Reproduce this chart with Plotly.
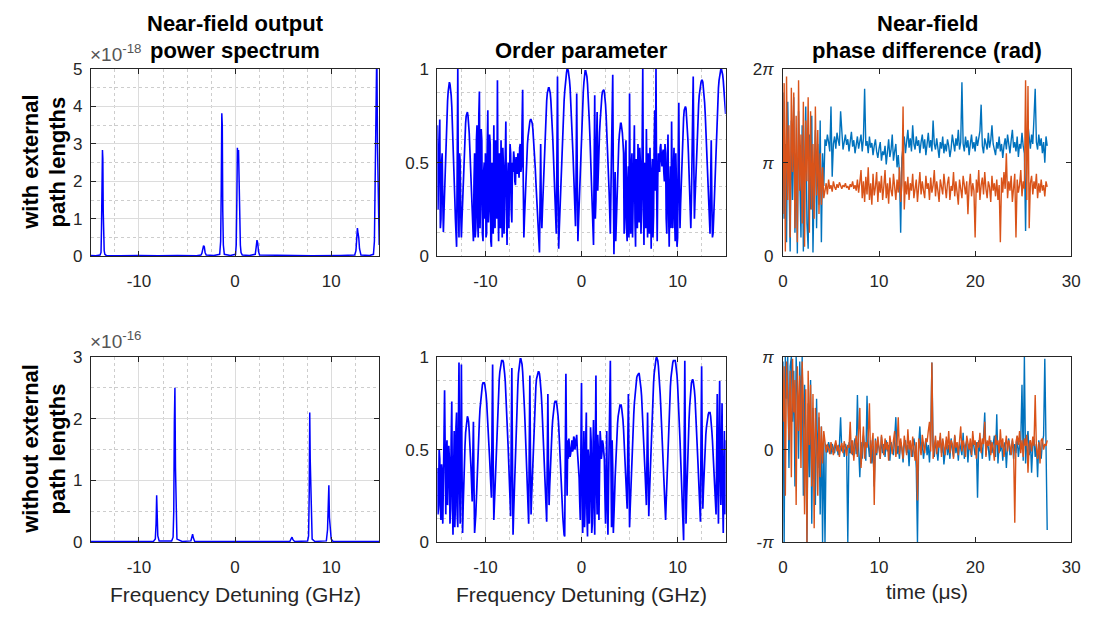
import numpy as np
import plotly.graph_objects as go

# ---------------- data ----------------
# Near-field output power spectrum, with external path lengths (units of 1e-18)
spec_top_freq = [-15.0, -14.5, -14.05, -13.95, -13.90, -13.85, -13.80, -13.76, -13.72, -13.68, -13.62, -13.55, -13.4,
                 -12.0, -10.0, -8.0, -6.0, -4.0, -3.55,
                 -3.45, -3.35, -3.28, -3.20, -3.12, -3.0,
                 -2.2, -1.6, -1.5, -1.44, -1.38, -1.33, -1.28, -1.22, -1.12,
                 -0.5, 0.05, 0.12, 0.18, 0.24, 0.30, 0.36, 0.42, 0.48, 0.55, 0.62, 0.75,
                 1.5, 2.1, 2.2, 2.28, 2.36, 2.44, 2.55,
                 5.0, 8.0, 11.0, 12.45, 12.58, 12.66, 12.73, 12.80, 12.87, 12.95, 13.1,
                 14.0, 14.4, 14.5, 14.56, 14.62, 14.68, 14.75, 14.82, 14.9, 15.0]
spec_top_power = [0.02, 0.01, 0.03, 0.10, 0.74, 1.90, 2.84, 2.60, 1.20, 0.30, 0.15, 0.05, 0.02,
                  0.01, 0.02, 0.01, 0.02, 0.01, 0.03,
                  0.08, 0.22, 0.28, 0.25, 0.10, 0.03,
                  0.02, 0.05, 0.40, 1.77, 3.82, 3.50, 1.20, 0.30, 0.05,
                  0.02, 0.05, 0.30, 1.40, 2.90, 2.50, 2.84, 2.00, 0.80, 0.30, 0.10, 0.03,
                  0.02, 0.05, 0.25, 0.43, 0.35, 0.12, 0.03,
                  0.02, 0.01, 0.02, 0.03, 0.15, 0.50, 0.75, 0.60, 0.50, 0.20, 0.03,
                  0.02, 0.05, 0.40, 1.80, 3.24, 5.60, 5.60, 3.00, 1.00, 0.30]

# Near-field output power spectrum, without external path lengths (units of 1e-16)
spec_bot_freq = [-15.0, -12.0, -10.0, -8.5, -8.3, -8.22, -8.16, -8.10, -8.04, -7.9,
                 -6.6, -6.45, -6.38, -6.32, -6.26, -6.20, -6.14, -6.05, -5.5,
                 -4.6, -4.5, -4.42, -4.34, -4.2, 0.0,
                 5.7, 5.85, 5.93, 6.02, 6.2,
                 7.55, 7.65, 7.72, 7.77, 7.82, 7.87, 7.93, 8.02, 8.3,
                 9.5, 9.62, 9.70, 9.76, 9.82, 9.90, 10.0, 10.2, 15.0]
spec_bot_power = [0.01, 0.01, 0.01, 0.01, 0.05, 0.30, 0.76, 0.50, 0.10, 0.02,
                  0.02, 0.08, 0.50, 1.93, 2.50, 1.20, 0.30, 0.05, 0.01,
                  0.02, 0.08, 0.13, 0.07, 0.01, 0.01,
                  0.01, 0.06, 0.08, 0.04, 0.01,
                  0.02, 0.10, 0.84, 2.10, 1.34, 0.84, 0.30, 0.05, 0.01,
                  0.02, 0.20, 0.50, 0.92, 0.40, 0.20, 0.05, 0.01, 0.01]

# Order parameter, sampled every 0.0625 GHz from -15 to 15 GHz
order_top = [
    0.70, 0.25, 0.45, 0.62, 0.73, 0.15, 0.20, 0.50, 0.55, 0.30, 0.13, 0.24, 0.35, 0.47, 0.58, 0.68, 0.76, 0.83, 0.88, 0.91,
    0.93, 0.92, 0.90, 0.86, 0.80, 0.72, 0.63, 0.53, 0.42, 0.31, 0.20, 0.12, 0.05, 0.45, 1.00, 0.30, 0.10, 0.55, 0.50, 0.22,
    0.10, 0.20, 0.30, 0.40, 0.50, 0.59, 0.66, 0.71, 0.75, 0.77, 0.77, 0.75, 0.72, 0.66, 0.58, 0.49, 0.40, 0.30, 0.20, 0.13,
    0.08, 0.40, 0.55, 0.10, 0.15, 0.62, 0.70, 0.20, 0.10, 0.75, 0.88, 0.15, 0.30, 0.68, 0.62, 0.12, 0.08, 0.45, 0.50, 0.20,
    0.55, 0.10, 0.12, 0.58, 0.78, 0.18, 0.25, 0.65, 0.60, 0.08, 0.05, 0.50, 0.45, 0.12, 0.70, 0.30, 0.15, 0.62, 0.52, 0.20,
    0.94, 0.30, 0.08, 0.55, 0.40, 0.15, 0.62, 0.20, 0.10, 0.58, 0.48, 0.12, 0.30, 0.60, 0.72, 0.25, 0.06, 0.42, 0.50, 0.15,
    0.35, 0.60, 0.55, 0.25, 0.18, 0.50, 0.45, 0.56, 0.52, 0.40, 0.38, 0.53, 0.50, 0.44, 0.55, 0.48, 0.42, 0.58, 0.60, 0.45,
    0.48, 0.70, 0.89, 0.40, 0.10, 0.20, 0.30, 0.39, 0.47, 0.54, 0.60, 0.64, 0.68, 0.70, 0.72, 0.73, 0.73, 0.72, 0.71, 0.68,
    0.64, 0.59, 0.54, 0.47, 0.40, 0.33, 0.26, 0.19, 0.12, 0.06, 0.02, 0.30, 0.60, 0.25, 0.15, 0.25, 0.35, 0.45, 0.55, 0.64,
    0.72, 0.78, 0.83, 0.87, 0.89, 0.90, 0.90, 0.89, 0.87, 0.83, 0.78, 0.72, 0.64, 0.56, 0.47, 0.39, 0.30, 0.21, 0.12, 0.50,
    0.96, 0.40, 0.04, 0.15, 0.25, 0.35, 0.45, 0.54, 0.62, 0.70, 0.77, 0.83, 0.88, 0.93, 0.96, 0.98, 1.00, 1.00, 0.99, 0.97,
    0.94, 0.90, 0.84, 0.78, 0.70, 0.62, 0.53, 0.44, 0.35, 0.25, 0.16, 0.45, 0.87, 0.40, 0.08, 0.18, 0.28, 0.38, 0.48, 0.57,
    0.66, 0.74, 0.81, 0.88, 0.93, 0.97, 0.99, 0.99, 0.98, 0.96, 0.92, 0.87, 0.80, 0.72, 0.64, 0.55, 0.45, 0.35, 0.25, 0.15,
    0.06, 0.45, 0.86, 0.20, 0.30, 0.60, 0.77, 0.35, 0.50, 0.58, 0.66, 0.72, 0.78, 0.83, 0.86, 0.88, 0.89, 0.89, 0.88, 0.85,
    0.81, 0.75, 0.68, 0.60, 0.52, 0.43, 0.34, 0.23, 0.12, 0.35, 0.60, 0.85, 0.97, 0.40, 0.01, 0.25, 0.45, 0.08, 0.20, 0.33,
    0.45, 0.53, 0.60, 0.65, 0.69, 0.71, 0.71, 0.69, 0.66, 0.61, 0.55, 0.12, 0.20, 0.55, 0.62, 0.15, 0.08, 0.40, 0.48, 0.10,
    0.87, 0.35, 0.12, 0.48, 0.55, 0.10, 0.30, 0.62, 0.70, 0.20, 0.05, 0.52, 0.42, 0.15, 0.60, 0.35, 0.18, 0.58, 0.50, 0.12,
    0.25, 0.60, 1.00, 0.30, 0.06, 0.50, 0.45, 0.15, 0.68, 0.40, 0.10, 0.55, 0.38, 0.12, 0.58, 0.25, 0.04, 0.45, 0.52, 0.10,
    0.22, 0.60, 0.78, 0.35, 1.00, 0.40, 0.08, 0.42, 0.55, 0.50, 0.45, 0.58, 0.60, 0.52, 0.48, 0.55, 0.57, 0.45, 0.40, 0.60,
    0.55, 0.20, 0.12, 0.50, 0.65, 0.25, 0.05, 0.35, 0.48, 0.15, 0.72, 0.40, 0.15, 0.45, 0.58, 0.20, 0.08, 0.55, 0.40, 0.05,
    0.10, 0.50, 0.82, 0.35, 0.15, 0.28, 0.40, 0.51, 0.60, 0.68, 0.74, 0.78, 0.80, 0.80, 0.79, 0.75, 0.70, 0.63, 0.55, 0.45,
    0.35, 0.25, 0.15, 0.30, 0.50, 0.75, 0.96, 0.50, 0.20, 0.30, 0.40, 0.50, 0.60, 0.68, 0.75, 0.81, 0.86, 0.89, 0.92, 0.93,
    0.94, 0.94, 0.93, 0.90, 0.87, 0.82, 0.76, 0.68, 0.60, 0.51, 0.42, 0.33, 0.25, 0.18, 0.12, 0.40, 0.62, 0.30, 0.10, 0.12,
    0.20, 0.29, 0.38, 0.49, 0.60, 0.70, 0.78, 0.85, 0.90, 0.94, 0.97, 0.99, 1.00, 1.00, 0.99, 0.97, 0.94, 0.90, 0.86, 0.81,
    0.76]

order_bot = [
    0.40, 0.15, 0.20, 0.50, 0.45, 0.18, 0.12, 0.42, 0.38, 0.10, 0.25, 0.55, 0.82, 0.30, 0.15, 0.48, 0.55, 0.20, 0.30, 0.52,
    0.45, 0.10, 0.18, 0.55, 0.76, 0.25, 0.04, 0.35, 0.60, 0.08, 0.20, 0.62, 0.70, 0.15, 0.08, 0.60, 0.97, 0.30, 0.10, 0.50,
    0.96, 0.40, 0.05, 0.20, 0.35, 0.44, 0.52, 0.59, 0.64, 0.67, 0.68, 0.67, 0.65, 0.60, 0.55, 0.48, 0.40, 0.31, 0.22, 0.45,
    0.65, 0.30, 0.05, 0.10, 0.15, 0.25, 0.35, 0.44, 0.52, 0.60, 0.66, 0.72, 0.76, 0.80, 0.83, 0.85, 0.86, 0.86, 0.86, 0.85,
    0.83, 0.80, 0.76, 0.71, 0.65, 0.59, 0.52, 0.45, 0.38, 0.31, 0.24, 0.60, 0.96, 0.40, 0.12, 0.21, 0.30, 0.40, 0.50, 0.59,
    0.68, 0.76, 0.82, 0.88, 0.92, 0.95, 0.97, 0.98, 0.98, 0.98, 0.97, 0.95, 0.91, 0.87, 0.81, 0.74, 0.67, 0.59, 0.50, 0.41,
    0.32, 0.23, 0.14, 0.55, 0.94, 0.45, 0.04, 0.16, 0.28, 0.39, 0.50, 0.61, 0.70, 0.78, 0.85, 0.91, 0.95, 0.98, 0.99, 0.99,
    0.98, 0.96, 0.92, 0.87, 0.80, 0.72, 0.64, 0.55, 0.45, 0.35, 0.25, 0.17, 0.10, 0.50, 0.90, 0.45, 0.15, 0.25, 0.35, 0.45,
    0.55, 0.64, 0.72, 0.79, 0.84, 0.88, 0.90, 0.91, 0.92, 0.92, 0.91, 0.88, 0.85, 0.80, 0.74, 0.67, 0.59, 0.51, 0.42, 0.33,
    0.25, 0.18, 0.11, 0.45, 0.80, 0.40, 0.20, 0.30, 0.40, 0.48, 0.55, 0.61, 0.66, 0.70, 0.73, 0.75, 0.76, 0.76, 0.76, 0.74,
    0.72, 0.68, 0.63, 0.57, 0.50, 0.43, 0.35, 0.28, 0.20, 0.13, 0.06, 0.04, 0.03, 0.50, 0.91, 0.50, 0.25, 0.55, 0.45, 0.56,
    0.52, 0.46, 0.48, 0.54, 0.55, 0.49, 0.50, 0.57, 0.56, 0.50, 0.52, 0.55, 0.58, 0.50, 0.45, 0.40, 0.35, 0.22, 0.12, 0.50,
    0.86, 0.30, 0.05, 0.40, 0.60, 0.08, 0.20, 0.55, 0.70, 0.15, 0.03, 0.50, 0.45, 0.10, 0.25, 0.62, 0.55, 0.05, 0.10, 0.48,
    0.66, 0.20, 0.04, 0.50, 0.90, 0.30, 0.15, 0.58, 0.50, 0.12, 0.30, 0.60, 0.55, 0.45, 0.48, 0.55, 0.53, 0.50, 0.45, 0.25,
    0.10, 0.35, 0.60, 0.20, 0.04, 0.30, 0.50, 0.75, 0.98, 0.45, 0.08, 0.55, 0.40, 0.05, 0.12, 0.24, 0.35, 0.44, 0.52, 0.58,
    0.64, 0.68, 0.71, 0.73, 0.74, 0.74, 0.74, 0.72, 0.70, 0.66, 0.61, 0.55, 0.48, 0.41, 0.33, 0.25, 0.18, 0.50, 0.80, 0.40,
    0.08, 0.18, 0.28, 0.37, 0.46, 0.54, 0.62, 0.69, 0.75, 0.80, 0.84, 0.87, 0.89, 0.90, 0.91, 0.91, 0.91, 0.89, 0.87, 0.83,
    0.79, 0.73, 0.67, 0.60, 0.52, 0.44, 0.36, 0.28, 0.20, 0.45, 0.70, 0.40, 0.14, 0.25, 0.35, 0.46, 0.56, 0.65, 0.73, 0.80,
    0.86, 0.91, 0.95, 0.98, 0.99, 1.00, 0.99, 0.98, 0.95, 0.91, 0.86, 0.80, 0.73, 0.65, 0.56, 0.47, 0.38, 0.29, 0.20, 0.15,
    0.12, 0.22, 0.32, 0.42, 0.52, 0.61, 0.70, 0.78, 0.84, 0.89, 0.93, 0.96, 0.97, 0.98, 0.98, 0.98, 0.98, 0.96, 0.94, 0.90,
    0.85, 0.79, 0.72, 0.64, 0.55, 0.46, 0.36, 0.26, 0.16, 0.08, 0.01, 0.50, 0.98, 0.45, 0.10, 0.24, 0.38, 0.49, 0.58, 0.66,
    0.73, 0.79, 0.83, 0.86, 0.87, 0.88, 0.87, 0.85, 0.82, 0.78, 0.72, 0.65, 0.58, 0.50, 0.42, 0.34, 0.26, 0.18, 0.11, 0.55,
    0.95, 0.50, 0.18, 0.28, 0.38, 0.46, 0.52, 0.58, 0.62, 0.66, 0.68, 0.69, 0.70, 0.70, 0.70, 0.68, 0.65, 0.60, 0.55, 0.48,
    0.40, 0.32, 0.25, 0.20, 0.15, 0.45, 0.80, 0.30, 0.10, 0.55, 0.87, 0.40, 0.20, 0.50, 0.75, 0.25, 0.05, 0.35, 0.60, 0.15,
    0.55]

# Near-field phase difference in units of pi, sampled every 0.125 us
phase_top_blue = [
    1.75, 0.40, 1.20, 0.15, 1.65, 0.90, 0.05, 1.45, 0.60, 1.70,
    0.25, 1.10, 0.03, 1.55, 0.70, 0.20, 1.40, 0.05, 0.95, 1.60,
    0.35, 0.08, 1.30, 0.50, 1.50, 0.04, 0.80, 1.35, 0.30, 1.20,
    0.55, 1.45, 0.15, 1.10, 0.75,
    1.25, 1.18, 1.30, 1.22, 1.12, 1.60, 0.85, 1.20, 1.28, 1.15,
    1.32, 1.24, 1.18, 1.55, 1.26, 1.14, 1.22, 1.30, 1.19, 1.25,
    1.12, 1.21, 1.33, 1.17, 1.24, 1.10, 1.20, 1.28, 1.15, 1.22,
    1.30, 1.12, 1.26, 1.79, 1.18, 1.23, 1.10, 1.28, 1.16, 1.21,
    1.08, 1.18, 1.25, 1.12, 1.05, 1.15, 1.22, 1.02, 1.12, 1.08,
    1.18, 0.98, 1.10, 1.25, 1.06, 1.14, 1.30, 1.02, 1.12, 1.20,
    0.95, 1.08, 0.90, 0.25, 1.05, 1.15, 1.28, 1.10, 1.22, 1.35,
    1.16, 1.26, 1.12, 1.40, 1.20, 1.14, 1.28, 1.18, 1.24, 1.10,
    1.22, 1.30, 1.15, 1.25, 1.08, 1.20, 1.32, 1.16, 1.24, 1.12,
    1.45, 1.20, 1.14, 1.26, 1.18, 1.05, 1.22, 1.15, 1.28, 1.10,
    1.20, 1.12, 1.25, 1.18, 1.06, 1.15, 1.30, 1.20, 1.12, 1.26,
    1.18, 1.35, 1.14, 1.22, 1.86, 1.20, 1.12, 1.28, 1.16, 1.24,
    1.08, 1.20, 1.30, 1.15, 1.22, 1.12, 1.28, 1.18, 1.25, 1.34,
    1.62, 1.18, 1.10, 1.26, 1.20, 1.14, 1.32, 1.16, 1.24, 1.40,
    1.20, 1.12, 1.08, 1.22, 1.15, 1.28, 1.12, 1.20, 1.05, 1.18,
    1.26, 1.14, 1.30, 1.20, 1.10, 1.24, 1.35, 1.16, 1.22, 1.12,
    1.28, 1.06, 1.20, 1.15, 1.32, 1.18, 1.10, 0.27, 1.20, 1.40,
    1.25, 1.15, 1.30, 1.20, 1.48, 1.79, 1.22, 1.14, 1.30, 1.18,
    1.26, 1.10, 1.22, 1.00, 1.28, 1.18]
phase_top_orange = [
    0.45, 1.85, 0.05, 1.92, 0.60, 1.40, 0.20, 1.80, 0.90, 1.75,
    0.30, 1.50, 0.15, 1.88, 0.70, 1.30, 0.35, 1.65, 0.10, 1.45,
    0.80, 1.70, 0.25, 1.55, 0.50, 1.20, 0.40, 1.60, 0.65, 1.35,
    0.45, 1.10, 0.55, 0.95, 0.62,
    0.70, 0.78, 0.66, 0.82, 0.72, 0.76, 0.69, 0.80, 0.74, 0.71,
    0.77, 0.73, 0.79, 0.75, 0.72, 0.76, 0.74, 0.78, 0.73, 0.75,
    0.71, 0.77, 0.74, 0.80, 0.72, 0.76, 0.70, 0.82, 0.68, 0.79,
    0.92, 0.62, 0.80, 0.58, 0.85, 0.66, 0.95, 0.60, 0.78, 0.55,
    0.88, 0.65, 0.74, 0.90, 0.58, 0.80, 0.68, 0.86, 0.60, 0.75,
    0.92, 0.62, 0.78, 0.56, 0.84, 0.70, 0.64, 0.88, 0.72, 0.60,
    0.82, 0.68, 0.95, 0.58, 0.76, 1.60, 0.50, 0.80, 0.66, 0.85,
    0.60, 0.78, 0.70, 0.88, 0.62, 0.75, 0.82, 0.58, 0.74, 0.90,
    0.66, 0.80, 0.70, 0.62, 0.86, 0.72, 0.78, 0.60, 0.84, 0.68,
    0.76, 0.92, 0.64, 0.80, 0.70, 0.58, 0.82, 0.74, 0.66, 0.88,
    0.72, 0.62, 0.78, 0.85, 0.60, 0.75, 0.70, 0.90, 0.64, 0.80,
    0.68, 0.55, 0.82, 0.74, 0.62, 0.86, 0.72, 0.66, 0.80, 0.45,
    0.75, 0.88, 0.64, 0.78, 0.70, 0.20, 0.82, 0.68, 0.92, 0.60,
    0.76, 0.84, 0.66, 0.90, 0.72, 0.62, 0.80, 0.74, 0.58, 0.86,
    0.70, 0.78, 0.64, 0.82, 0.60, 0.76, 0.15, 0.84, 0.68, 0.90,
    0.72, 1.10, 0.62, 0.80, 0.70, 0.86, 0.58, 0.75, 0.88, 0.20,
    0.82, 0.68, 0.76, 0.92, 0.64, 0.80, 0.72, 1.88, 0.60, 1.82,
    0.30, 0.78, 0.86, 0.66, 0.80, 0.72, 0.88, 0.62, 0.78, 0.68,
    0.82, 0.70, 0.76, 0.64, 0.80, 0.74]
phase_bot_blue = [
    0.95, -1.00, 1.00, 0.55, 1.00, -0.20, 0.90, 1.00, 0.30, 0.85,
    -0.40, 1.00, 0.60, -0.10, 0.95, 0.40, 1.00, -0.50, 0.70, 0.20,
    -1.00, 0.50, -0.30, 0.75, -0.80, 0.45, 0.10, -0.60, 0.55, -0.20,
    0.35, -0.70, 0.25, -1.00, 0.15, -1.00,
    0.05, -0.03, 0.08, 0.02, -0.05, 0.06, 0.00, -0.04, 0.07, 0.03,
    -0.06, 0.05, 0.35, -0.02, 0.04, -0.08, 0.06, 0.01, -1.00, 0.08,
    -0.04, 0.10, -0.06, 0.03, 0.12, -0.05, 0.59, 0.02, -0.30, 0.08,
    -0.10, 0.15, 0.00, -0.12, 0.58, 0.06, -0.08, 0.10, -0.15, 0.04,
    -0.40, 0.12, -0.06, 0.08, 0.02, -0.10, 0.14, -0.04, 0.06, -0.08,
    0.10, -0.02, 0.05, -0.12, 0.08, 0.00, -0.06, 0.12, 0.35, -0.05,
    0.04, -0.10, 0.08, 0.02, -0.14, 0.06, 0.10, -0.04, 0.05, -0.18,
    0.08, 0.00, -0.08, 0.12, 0.04, -0.20, -1.00, 0.06, 0.25, -0.04,
    0.08, -0.10, 0.02, 0.12, -0.06, 0.05, -0.14, 0.10, 0.94, 0.04,
    -0.08, 0.10, 0.00, -0.12, 0.06, 0.14, -0.04, 0.08, -0.16, 0.02,
    0.10, -0.06, 0.05, -0.10, 0.12, 0.00, -0.08, 0.15, -0.04, 0.06,
    -0.12, 0.08, 0.02, -0.06, 0.18, -0.10, 0.04, 0.10, -0.14, 0.06,
    0.00, -0.08, 0.12, 0.04, -0.06, 0.08, -0.52, 0.10, -0.02, 0.06,
    -0.10, 0.14, 0.40, -0.06, 0.08, 0.02, -0.12, 0.10, -0.04, 0.06,
    0.15, -0.08, 0.38, -0.15, 0.06, -0.02, 0.10, -0.12, 0.04, 0.08,
    -0.20, 0.05, 0.12, -0.06, 0.00, 0.10, -0.10, 0.06, -0.04, 0.14,
    -0.08, 0.04, 0.10, 0.70, -0.12, 1.00, -0.15, 0.08, 0.20, -0.06,
    0.10, -0.25, 0.04, 0.12, -0.08, 0.06, -0.30, 0.10, 0.02, -0.10,
    0.08, 0.15, 0.98, 0.05, -0.87]
phase_bot_orange = [
    0.30, 0.90, -0.50, 0.95, 0.60, 0.10, 0.85, -0.30, 0.98, 0.40,
    0.75, -0.60, 0.90, 0.20, 0.80, -0.20, 0.95, 0.50, -0.70, 0.65,
    -1.00, 0.85, 0.05, 0.70, -0.40, 0.60, -0.85, 0.45, 0.10, -0.50,
    0.40, -0.30, 0.25, -0.15, 0.20, 0.05,
    -0.03, 0.06, 0.01, -0.05, 0.08, 0.02, -0.06, 0.04, 0.10, -0.02,
    0.05, -0.08, 0.03, 0.07, -0.04, 0.09, 0.00, -0.07, 0.05, 0.02,
    0.30, -0.05, 0.10, -0.12, 0.06, 0.15, -0.08, 0.20, 0.45, -0.20,
    0.12, 0.25, -0.10, 0.08, 0.02, 0.15, 0.50, -0.15, 0.05, 0.18,
    -0.60, 0.10, -0.04, 0.14, 0.02, -0.10, 0.16, 0.05, -0.06, 0.12,
    0.00, 0.08, -0.12, 0.15, 0.04, -0.05, 0.10, 0.20, -0.08, 0.06,
    0.35, -0.05, 0.12, 0.02, -0.10, 0.15, 0.06, -0.06, 0.22, 0.00,
    0.10, -0.08, 0.14, 0.04, -0.12, 0.08, -0.55, 0.12, 0.02, -0.06,
    0.16, 0.05, -0.04, 0.12, 0.08, 0.20, 0.30, -0.02, 0.94, -0.10,
    0.06, 0.15, -0.05, 0.10, 0.02, 0.18, -0.08, 0.12, 0.04, -0.06,
    0.14, 0.00, 0.20, -0.04, 0.10, 0.06, -0.10, 0.16, 0.02, 0.08,
    -0.06, 0.12, 0.25, -0.02, 0.10, 0.04, -0.08, 0.15, 0.06, 0.00,
    0.12, -0.06, 0.20, 0.05, 0.10, -0.10, 0.08, 0.02, 0.18, -0.04,
    0.12, 0.06, 0.30, -0.08, 0.10, 0.04, 0.15, -0.06, 0.08, 0.02,
    -0.12, 0.16, 0.05, 0.10, -0.04, 0.22, 0.02, 0.12, -0.08, 0.06,
    0.15, -0.02, 0.10, 0.04, -0.06, 0.12, 0.02, -0.79, 0.08, 0.15,
    0.05, 0.20, -0.04, 0.10, -0.08, 0.12, 0.04, 0.16, -0.25, 0.06,
    0.10, -0.02, 0.14, 0.04, 0.59, 0.02, -0.10, 0.08, -0.15, 0.10,
    0.12, 0.00, 0.06, 0.04, 0.10]

order_freq = np.linspace(-15, 15, len(order_top))
time_us = np.arange(len(phase_top_blue)) * 0.125

# ---------------- styling ----------------
FONT = "Liberation Sans, Arial, Helvetica, sans-serif"
AXC = "#262626"
BLUE = "#0000FF"
MBLUE = "#0072BD"
MORANGE = "#D95319"

cols = [(0.0792, 0.3449), (0.3985, 0.6642), (0.7170, 0.9827)]
rows = [(0.5887, 0.9000), (0.1129, 0.4210)]

fig = go.Figure()

fig.add_trace(go.Scatter(x=spec_top_freq, y=spec_top_power, mode="lines",
                         line=dict(color=BLUE, width=1.5), xaxis="x", yaxis="y"))
fig.add_trace(go.Scatter(x=order_freq, y=order_top, mode="lines",
                         line=dict(color=BLUE, width=1.7), xaxis="x2", yaxis="y2"))
fig.add_trace(go.Scatter(x=time_us, y=phase_top_blue, mode="lines",
                         line=dict(color=MBLUE, width=1.4), xaxis="x3", yaxis="y3"))
fig.add_trace(go.Scatter(x=time_us, y=phase_top_orange, mode="lines",
                         line=dict(color=MORANGE, width=1.4), xaxis="x3", yaxis="y3"))
fig.add_trace(go.Scatter(x=spec_bot_freq, y=spec_bot_power, mode="lines",
                         line=dict(color=BLUE, width=1.5), xaxis="x4", yaxis="y4"))
fig.add_trace(go.Scatter(x=order_freq, y=order_bot, mode="lines",
                         line=dict(color=BLUE, width=1.7), xaxis="x5", yaxis="y5"))
fig.add_trace(go.Scatter(x=time_us, y=phase_bot_blue, mode="lines",
                         line=dict(color=MBLUE, width=1.4), xaxis="x6", yaxis="y6"))
fig.add_trace(go.Scatter(x=time_us, y=phase_bot_orange, mode="lines",
                         line=dict(color=MORANGE, width=1.4), xaxis="x6", yaxis="y6"))


def base_axis(**kw):
    d = dict(showline=True, linecolor=AXC, linewidth=1, mirror="ticks",
             ticks="inside", ticklen=5, tickcolor=AXC, tickwidth=1,
             tickfont=dict(family=FONT, size=17, color=AXC),
             zeroline=False, showgrid=False, fixedrange=True)
    d.update(kw)
    return d


def grid_minor(dt):
    return dict(dtick=dt, tick0=0, showgrid=True, gridcolor="#cdcdcd",
                griddash="dot", gridwidth=1, ticks="")


xfreq = dict(range=[-15, 15], tickvals=[-10, 0, 10], ticktext=["-10", "0", "10"],
             showgrid=True, gridcolor="#dcdcdc", minor=grid_minor(2.5), ticklabelstandoff=9)
xtime = dict(range=[0, 30], tickvals=[0, 10, 20, 30], ticklabelstandoff=9)

PI = "<i>π</i>"
layout_axes = {
    "xaxis": base_axis(domain=cols[0], anchor="y", **xfreq),
    "yaxis": base_axis(domain=rows[0], anchor="x", range=[0, 5], dtick=1, showgrid=True,
                       gridcolor="#dcdcdc", minor=grid_minor(0.5), ticklabelstandoff=4),
    "xaxis2": base_axis(domain=cols[1], anchor="y2", **xfreq),
    "yaxis2": base_axis(domain=rows[0], anchor="x2", range=[0, 1], tickvals=[0, 0.5, 1],
                        ticktext=["0", "0.5", "1"], showgrid=True, gridcolor="#dcdcdc",
                        minor=grid_minor(0.125), ticklabelstandoff=4),
    "xaxis3": base_axis(domain=cols[2], anchor="y3", **xtime),
    "yaxis3": base_axis(domain=rows[0], anchor="x3", range=[0, 2], tickvals=[0, 1, 2],
                        ticktext=["0", PI, "2" + PI], ticklabelstandoff=5),
    "xaxis4": base_axis(domain=cols[0], anchor="y4", **xfreq),
    "yaxis4": base_axis(domain=rows[1], anchor="x4", range=[0, 3], dtick=1, showgrid=True,
                        gridcolor="#dcdcdc", minor=grid_minor(0.5), ticklabelstandoff=4),
    "xaxis5": base_axis(domain=cols[1], anchor="y5", **xfreq),
    "yaxis5": base_axis(domain=rows[1], anchor="x5", range=[0, 1], tickvals=[0, 0.5, 1],
                        ticktext=["0", "0.5", "1"], showgrid=True, gridcolor="#dcdcdc",
                        minor=grid_minor(0.125), ticklabelstandoff=4),
    "xaxis6": base_axis(domain=cols[2], anchor="y6", **xtime),
    "yaxis6": base_axis(domain=rows[1], anchor="x6", range=[-1, 1], tickvals=[-1, 0, 1],
                        ticktext=["-" + PI, "0", PI], ticklabelstandoff=5),
}

W, H = 1099, 620


def px_x(p):
    return p / W


def px_y(p):
    return 1 - p / H


ann = []


def text(x, y, s, size=22, bold=False, color="#000000", angle=0, xanchor="center", yanchor="middle"):
    ann.append(dict(x=x, y=y, xref="paper", yref="paper", text=("<b>%s</b>" % s) if bold else s,
                    showarrow=False, textangle=angle, xanchor=xanchor, yanchor=yanchor,
                    font=dict(family=FONT, size=size, color=color)))


cx = [(c[0] + c[1]) / 2 for c in cols]
text(cx[0], px_y(15), "Near-field output", bold=True)
text(cx[0], px_y(43), "power spectrum", bold=True)
text(cx[1], px_y(43), "Order parameter", bold=True)
text(cx[2], px_y(15), "Near-field", bold=True)
text(cx[2], px_y(43), "phase difference (rad)", bold=True)

text(px_x(25), px_y(158), "with external", bold=True, angle=-90)
text(px_x(53), px_y(158), "path lengths", bold=True, angle=-90)
text(px_x(25), px_y(454), "without external", bold=True, angle=-90)
text(px_x(53), px_y(454), "path lengths", bold=True, angle=-90)

text(cx[0], px_y(604), "Frequency Detuning (GHz)", size=21, color=AXC)
text(cx[1], px_y(604), "Frequency Detuning (GHz)", size=21, color=AXC)
text(cx[2], px_y(601), "time (μs)", size=21, color=AXC)

text(px_x(84), px_y(60), "×10<sup>-18</sup>", size=19, color="#555555", xanchor="left", yanchor="bottom")
text(px_x(84), px_y(356), "×10<sup>-16</sup>", size=19, color="#555555", xanchor="left", yanchor="bottom")

fig.update_layout(width=W, height=H, margin=dict(l=0, r=0, t=0, b=0),
                  paper_bgcolor="white", plot_bgcolor="white", showlegend=False,
                  annotations=ann, **layout_axes)

fig.write_html("out.html")
